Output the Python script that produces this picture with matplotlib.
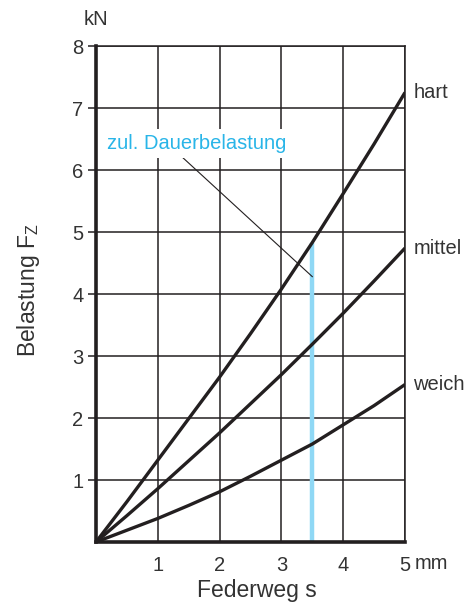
import numpy as np
import matplotlib
matplotlib.use("Agg")
import matplotlib.pyplot as plt

# Data
s_mm = [0, 0.5, 1, 1.5, 2, 2.5, 3, 3.5, 4, 4.5, 5]
hart = [0, 0.65, 1.32, 1.99, 2.66, 3.36, 4.08, 4.83, 5.62, 6.42, 7.25]
mittel = [0, 0.425, 0.86, 1.31, 1.76, 2.23, 2.70, 3.19, 3.69, 4.21, 4.74]
weich = [0, 0.19, 0.38, 0.59, 0.81, 1.06, 1.32, 1.58, 1.89, 2.20, 2.54]
curve_names = ["hart", "mittel", "weich"]
x_ticks = [1, 2, 3, 4, 5]
y_ticks = [1, 2, 3, 4, 5, 6, 7, 8]
limit_s = 3.5
limit_top = 4.82

plt.rcParams['font.family'] = ['Liberation Sans', 'DejaVu Sans']

fig = plt.figure(figsize=(4.75, 6.03), dpi=100)
ax = fig.add_axes([96/475, 1-542/603, 309/475, 496/603])

ink = '#231f20'
txt = '#333333'

ax.set_xlim(0, 5)
ax.set_ylim(0, 8)
ax.set_xticks(x_ticks)
ax.set_yticks(y_ticks)
ax.set_xticklabels([str(v) for v in x_ticks])
ax.set_yticklabels([str(v) for v in y_ticks])
ax.grid(True, color=ink, lw=1.1, zorder=0)
ax.set_axisbelow(True)

for side in ['top', 'right']:
    ax.spines[side].set_linewidth(1.1)
    ax.spines[side].set_color(ink)
for side in ['left', 'bottom']:
    ax.spines[side].set_linewidth(2.6)
    ax.spines[side].set_color(ink)

ax.tick_params(axis='y', length=6, width=1.1, color=ink, pad=3, labelsize=14.5, labelcolor=txt)
ax.tick_params(axis='x', length=0, pad=10, labelsize=14.5, labelcolor=txt)

# blue limit line
ax.plot([limit_s, limit_s], [0, limit_top], color='#8fd8f5', lw=3.2, zorder=2,
        solid_capstyle='butt')

# curves
for vals in [hart, mittel, weich]:
    ax.plot(s_mm, vals, color=ink, lw=2.4, zorder=3, solid_capstyle='butt',
            solid_joinstyle='round')

# curve labels
for name, vals in zip(curve_names, [hart, mittel, weich]):
    ax.annotate(name, xy=(5, vals[-1]), xytext=(6, 0), textcoords='offset points',
                ha='left', va='center', fontsize=14.5, color=txt,
                annotation_clip=False)

# annotation text with leader
ax.text(0.17, 6.43, "zul. Dauerbelastung", color='#29b5e8', fontsize=14.5,
        ha='left', va='center', zorder=5,
        bbox=dict(boxstyle='square,pad=0.25', fc='white', ec='none'))
ax.plot([1.36, 3.5], [6.24, 4.28], color=ink, lw=0.8, zorder=4)

# axis labels
ax.text(0, 8.42, "kN", fontsize=14.5, color=txt, ha='center', va='center')
ax.text(5.15, -0.345, "mm", fontsize=14.5, color=txt, ha='left', va='center')
fig.text(257/475, 1-590/603, "Federweg s", fontsize=16.5, color=txt,
         ha='center', va='center')
fig.text(28/475, 1-290/603, r"Belastung F$_\mathregular{Z}$", fontsize=16.5,
         color=txt, ha='center', va='center', rotation=90)

fig.savefig("out.png", dpi=100)
